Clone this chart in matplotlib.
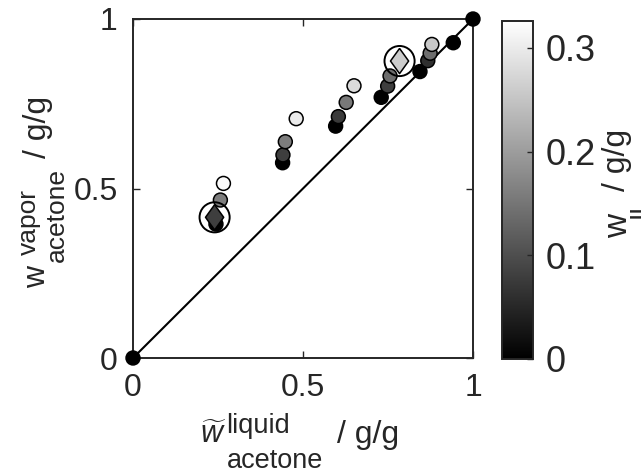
import numpy as np
import matplotlib
matplotlib.use('Agg')
import matplotlib.pyplot as plt

plt.rcParams['font.family'] = ['Liberation Sans', 'DejaVu Sans']
plt.rcParams['mathtext.fontset'] = 'custom'
plt.rcParams['mathtext.rm'] = 'Liberation Sans'
plt.rcParams['mathtext.it'] = 'Liberation Sans:italic'

# liquid / vapor acetone mass fractions, coloured by IL content
x_liq = [0.0, 0.244, 0.257, 0.266, 0.440, 0.441, 0.448, 0.480, 0.596, 0.604, 0.627,
         0.650, 0.730, 0.749, 0.756, 0.844, 0.867, 0.874, 0.879, 0.942, 1.0]
y_vap = [0.0, 0.395, 0.466, 0.515, 0.576, 0.599, 0.638, 0.706, 0.684, 0.712, 0.754,
         0.803, 0.769, 0.802, 0.832, 0.845, 0.877, 0.899, 0.925, 0.930, 1.0]
w_il = [0.0, 0.0, 0.16, 0.32, 0.0, 0.08, 0.16, 0.30, 0.0, 0.075, 0.155,
        0.28, 0.0, 0.08, 0.14, 0.0, 0.06, 0.14, 0.255, 0.0, 0.0]

# highlighted points (diamonds)
x_dia = [0.240, 0.784]
y_dia = [0.415, 0.876]
w_dia = [0.08, 0.26]

w_max = 0.326
txt = '#262626'

W, H = 641, 474
fig = plt.figure(figsize=(W / 100, H / 100), dpi=100)

def fx(px):
    return px / W

def fy(py):
    return 1 - py / H

ax = fig.add_axes([fx(133), fy(358), 340 / W, 339 / H])
cax = fig.add_axes([fx(502), fy(359), 31 / W, 338 / H])

ax.plot([0, 1], [0, 1], color='k', lw=1.5, zorder=2)
sc = ax.scatter(x_liq, y_vap, c=w_il, cmap='gray', vmin=0, vmax=w_max, s=100,
                edgecolors='k', linewidths=1.1, zorder=3, clip_on=False)
dia = [(0, 1), (0.72, 0), (0, -1), (-0.72, 0), (0, 1)]
ax.scatter(x_dia, y_dia, c=w_dia, cmap='gray', vmin=0, vmax=w_max, s=330,
           marker=dia, edgecolors='k', linewidths=1.1, zorder=4)
ax.scatter(x_dia, y_dia, s=470, facecolors='none', edgecolors='k',
           linewidths=1.4, zorder=4)

ax.set_xlim(0, 1)
ax.set_ylim(0, 1)
ax.set_xticks([0, 0.5, 1])
ax.set_yticks([0, 0.5, 1])
ax.set_xticklabels(['0', '0.5', '1'])
ax.set_yticklabels(['0', '0.5', '1'])
ax.tick_params(direction='in', length=5, width=1, colors=txt, labelsize=23,
               top=True, right=True)
ax.tick_params(axis='x', pad=11)
ax.tick_params(axis='y', pad=11)
for sp in ax.spines.values():
    sp.set_color(txt)
    sp.set_linewidth(1.4)

cb = fig.colorbar(sc, cax=cax)
cb.set_ticks([0, 0.1, 0.2, 0.3])
cb.set_ticklabels(['0', '0.1', '0.2', '0.3'])
cax.tick_params(direction='in', length=4, width=1, colors=txt, labelsize=26, pad=9)
cb.outline.set_edgecolor(txt)
cb.outline.set_linewidth(1.4)

# x label, built from pieces so the scripts stay large
fig.text(fx(200), fy(443), r'$\widetilde{w}$', fontsize=22, color=txt, va='baseline')
fig.text(fx(226), fy(433), 'liquid', fontsize=19.5, color=txt, va='baseline')
fig.text(fx(227), fy(468), 'acetone', fontsize=19.5, color=txt, va='baseline')
fig.text(fx(337), fy(443), '/ g/g', fontsize=23, color=txt, va='baseline')

# y label, rotated pieces
rot = dict(rotation=90, rotation_mode='anchor', ha='left', va='baseline', color=txt)
fig.text(fx(45), fy(288), 'w', fontsize=22, **rot)
fig.text(fx(36), fy(255), 'vapor', fontsize=19, **rot)
fig.text(fx(64), fy(262), 'acetone', fontsize=19, **rot)
fig.text(fx(46), fy(158), '/ g/g', fontsize=23, **rot)

# colorbar label
fig.text(fx(627), fy(238), 'w', fontsize=24, **rot)
fig.text(fx(647), fy(218), 'IL', fontsize=19, **rot)
fig.text(fx(625), fy(191), '/ g/g', fontsize=23, **rot)

fig.savefig('out.png', dpi=100)
